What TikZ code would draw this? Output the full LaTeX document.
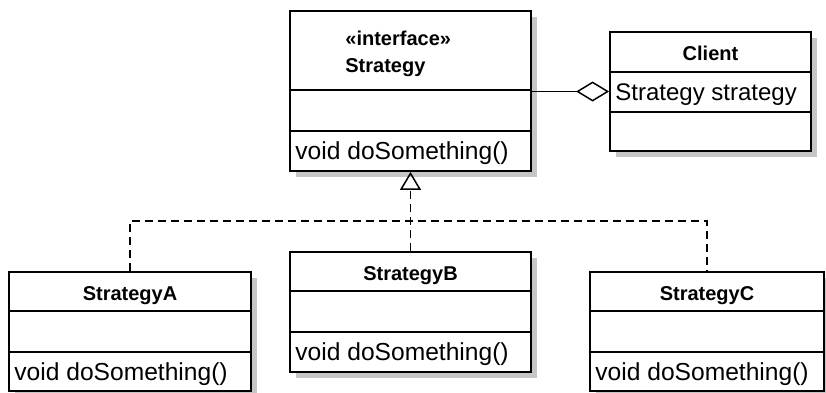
\documentclass[tikz,border=0pt]{standalone}
\usepackage{fontspec}
\setmainfont{Liberation Sans}
\usetikzlibrary{arrows.meta,fit,shadows}
\definecolor{shadowgray}{HTML}{C6C6C6}
\begin{document}
\begin{tikzpicture}[
  x=0.5pt, y=-0.5pt,
  font=\fontsize{11.85}{14}\selectfont,
  classbox/.style={draw=black, line width=0.9pt, fill=white, inner sep=0pt,
    drop shadow={shadow xshift=3pt, shadow yshift=-3pt, fill=shadowgray, opacity=1}},
  divider/.style={draw=black, line width=0.9pt},
  classname/.style={anchor=base, inner sep=0pt, font=\bfseries},
  member/.style={anchor=base west, inner sep=0pt, font=\fontsize{12.3}{14}\selectfont},
  field/.style={member, font=\fontsize{12}{14}\selectfont},
  stereotype/.style={anchor=base west, inner sep=0pt, font=\bfseries},
  link/.style={draw=black, line width=0.75pt},
  realize/.style={link, dash pattern=on 4pt off 2.5pt},
]
\useasboundingbox (0,0) rectangle (826,392);

% interface Strategy
\node[classbox, fit={(290,11) (531,171)}] (strategy) {};
\draw[divider] (strategy.west |- 0,90) -- (strategy.east |- 0,90);
\draw[divider] (strategy.west |- 0,131) -- (strategy.east |- 0,131);
\node[stereotype] (stereo) at (345,45) {«interface»};
\node[stereotype] (strategyname) at (345,72) {Strategy};
\node[member] (strategyop) at (295,159.5) {void doSomething()};

% Client
\node[classbox, fit={(610,32) (811,151)}] (client) {};
\draw[divider] (client.west |- 0,72) -- (client.east |- 0,72);
\draw[divider] (client.west |- 0,112) -- (client.east |- 0,112);
\node[classname] (clientname) at (710.5,60.5) {Client};
\node[field] (clientattr) at (615,100.5) {Strategy strategy};

% StrategyA
\node[classbox, fit={(9,272) (251,391)}] (sa) {};
\draw[divider] (sa.west |- 0,311) -- (sa.east |- 0,311);
\draw[divider] (sa.west |- 0,352) -- (sa.east |- 0,352);
\node[classname] (saname) at (130,300.5) {StrategyA};
\node[member] (saop) at (14,380.5) {void doSomething()};

% StrategyB
\node[classbox, fit={(290,252) (531,372)}] (sb) {};
\draw[divider] (sb.west |- 0,291) -- (sb.east |- 0,291);
\draw[divider] (sb.west |- 0,332) -- (sb.east |- 0,332);
\node[classname] (sbname) at (410.5,280.5) {StrategyB};
\node[member] (sbop) at (295,360.5) {void doSomething()};

% StrategyC
\node[classbox, fit={(590,272) (824,391)}] (sc) {};
\draw[divider] (sc.west |- 0,311) -- (sc.east |- 0,311);
\draw[divider] (sc.west |- 0,352) -- (sc.east |- 0,352);
\node[classname] (scname) at (707,300.5) {StrategyC};
\node[member] (scop) at (595,380.5) {void doSomething()};

% aggregation: Client holds a Strategy
\draw[link, -{Diamond[open, length=16.5pt, width=10pt]}]
  (strategy.east |- client.west) -- (client.west);

% realization of the interface
\coordinate (bus) at (410.5,221);
\draw[realize] (sa.north) -- (sa.north |- bus) -- (sc.north |- bus) -- (sc.north);
\draw[realize, -{Triangle[open, length=9pt, width=10.5pt]}] (sb.north) -- (strategy.south);
\end{tikzpicture}
\end{document}
